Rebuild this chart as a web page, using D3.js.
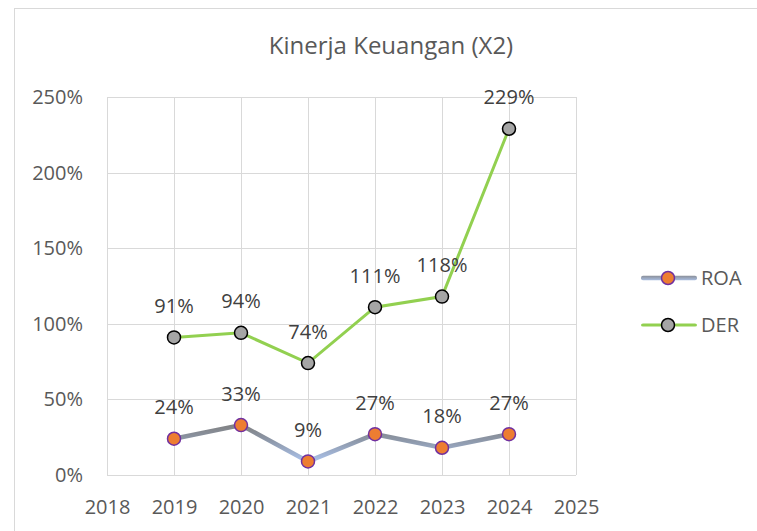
<!DOCTYPE html>
<html>
<head>
<meta charset="utf-8">
<script src="https://cdn.jsdelivr.net/npm/d3@7"></script>
<style>
  body { margin: 0; background: #fff; }
  text { font-family: "Open Sans", "Noto Sans", sans-serif; fill: #595959; }
</style>
</head>
<body>
<svg id="chart" width="757" height="531"></svg>
<script>
var years = [2019, 2020, 2021, 2022, 2023, 2024];
var roa = [24, 33, 9, 27, 18, 27];
var der = [91, 94, 74, 111, 118, 229];
var yTicks = [0, 50, 100, 150, 200, 250];
var xTicks = [2018, 2019, 2020, 2021, 2022, 2023, 2024, 2025];

var svg = d3.select('#chart');

// outer chart frame
svg.append('rect')
    .attr('x', 14.5).attr('y', 8.5)
    .attr('width', 800).attr('height', 600)
    .attr('fill', '#fff')
    .attr('stroke', '#d9d9d9');

var margin = { top: 97, left: 107, bottom: 56, right: 181 };
var width = 757 - margin.left - margin.right;
var height = 531 - margin.top - margin.bottom;

var xScale = d3.scaleLinear().domain([2018, 2025]).range([0, width]);
var yScale = d3.scaleLinear().domain([0, 250]).range([height, 0]);

var g = svg.append('g')
    .attr('transform', 'translate(' + margin.left + ',' + margin.top + ')');

// gridlines
g.append('g').selectAll('line.h')
    .data(yTicks).enter().append('line')
    .attr('x1', 0).attr('x2', width)
    .attr('y1', function (d) { return Math.round(yScale(d)) + 0.5; })
    .attr('y2', function (d) { return Math.round(yScale(d)) + 0.5; })
    .attr('stroke', '#d9d9d9').attr('stroke-width', 1);

g.append('g').selectAll('line.v')
    .data(xTicks).enter().append('line')
    .attr('y1', 0).attr('y2', height)
    .attr('x1', function (d) { return Math.round(xScale(d)) + 0.5; })
    .attr('x2', function (d) { return Math.round(xScale(d)) + 0.5; })
    .attr('stroke', '#d9d9d9').attr('stroke-width', 1);

// axes (labels only)
var yAxis = d3.axisLeft(yScale).tickValues(yTicks)
    .tickFormat(function (d) { return d + '%'; }).tickSize(0).tickPadding(24);
var xAxis = d3.axisBottom(xScale).tickValues(xTicks)
    .tickFormat(d3.format('d')).tickSize(0).tickPadding(25);

g.append('g').call(yAxis)
    .call(function (s) { s.select('.domain').remove(); })
    .selectAll('text').style('font-size', '20px').attr('fill', '#595959');
g.append('g').attr('transform', 'translate(0,' + height + ')').call(xAxis)
    .call(function (s) { s.select('.domain').remove(); })
    .selectAll('text').style('font-size', '20px').attr('fill', '#595959');

// gradient for ROA line
var defs = svg.append('defs');
var grad = defs.append('linearGradient')
    .attr('id', 'roaGrad')
    .attr('gradientUnits', 'userSpaceOnUse')
    .attr('x1', 0).attr('x2', 0)
    .attr('y1', yScale(34)).attr('y2', yScale(8));
grad.append('stop').attr('offset', '0%').attr('stop-color', '#7f7f7f');
grad.append('stop').attr('offset', '45%').attr('stop-color', '#8e99ab');
grad.append('stop').attr('offset', '100%').attr('stop-color', '#adc5ef');

var legGrad = defs.append('linearGradient')
    .attr('id', 'legGrad')
    .attr('x1', 0).attr('x2', 0).attr('y1', 0).attr('y2', 1);
legGrad.append('stop').attr('offset', '0%').attr('stop-color', '#8a8f99');
legGrad.append('stop').attr('offset', '100%').attr('stop-color', '#a9bde0');

var line = d3.line()
    .x(function (d, i) { return xScale(years[i]); })
    .y(function (d) { return yScale(d); });

// DER
g.append('path').datum(der)
    .attr('d', line)
    .attr('fill', 'none')
    .attr('stroke', '#92d050')
    .attr('stroke-width', 3);

// ROA
g.append('path').datum(roa)
    .attr('d', line)
    .attr('fill', 'none')
    .attr('stroke', 'url(#roaGrad)')
    .attr('stroke-width', 4.5);

g.selectAll('circle.der').data(der).enter().append('circle')
    .attr('cx', function (d, i) { return xScale(years[i]); })
    .attr('cy', function (d) { return yScale(d); })
    .attr('r', 6.5)
    .attr('fill', '#a5a5a5').attr('stroke', '#000').attr('stroke-width', 1.5);

g.selectAll('circle.roa').data(roa).enter().append('circle')
    .attr('cx', function (d, i) { return xScale(years[i]); })
    .attr('cy', function (d) { return yScale(d); })
    .attr('r', 6.5)
    .attr('fill', '#ed7d31').attr('stroke', '#7030a0').attr('stroke-width', 1.5);

// data labels
function labels(data) {
    g.append('g').selectAll('text').data(data).enter().append('text')
        .attr('x', function (d, i) { return xScale(years[i]); })
        .attr('y', function (d) { return yScale(d) - 24.5; })
        .attr('text-anchor', 'middle')
        .style('font-size', '20px')
        .style('fill', '#404040')
        .text(function (d) { return d + '%'; });
}
labels(der);
labels(roa);

// title
svg.append('text')
    .attr('x', 391).attr('y', 54)
    .attr('text-anchor', 'middle')
    .style('font-size', '24px')
    .text('Kinerja Keuangan (X2)');

// legend
var legend = [
    { name: 'ROA', y: 278, stroke: 'url(#legGrad)', sw: 4.5, fill: '#ed7d31', mk: '#7030a0' },
    { name: 'DER', y: 325, stroke: '#92d050', sw: 3, fill: '#a5a5a5', mk: '#000' }
];
var lg = svg.append('g').selectAll('g').data(legend).enter().append('g')
    .attr('transform', function (d) { return 'translate(641,' + d.y + ')'; });
lg.append('rect')
    .attr('x', 0).attr('y', function (d) { return -d.sw / 2; })
    .attr('width', 56).attr('height', function (d) { return d.sw; })
    .attr('rx', 2)
    .attr('fill', function (d) { return d.stroke; });
lg.append('circle')
    .attr('cx', 27).attr('cy', 0).attr('r', 6.5)
    .attr('fill', function (d) { return d.fill; })
    .attr('stroke', function (d) { return d.mk; }).attr('stroke-width', 1.5);
lg.append('text')
    .attr('x', 60).attr('y', 7)
    .style('font-size', '20px')
    .text(function (d) { return d.name; });
</script>
</body>
</html>
